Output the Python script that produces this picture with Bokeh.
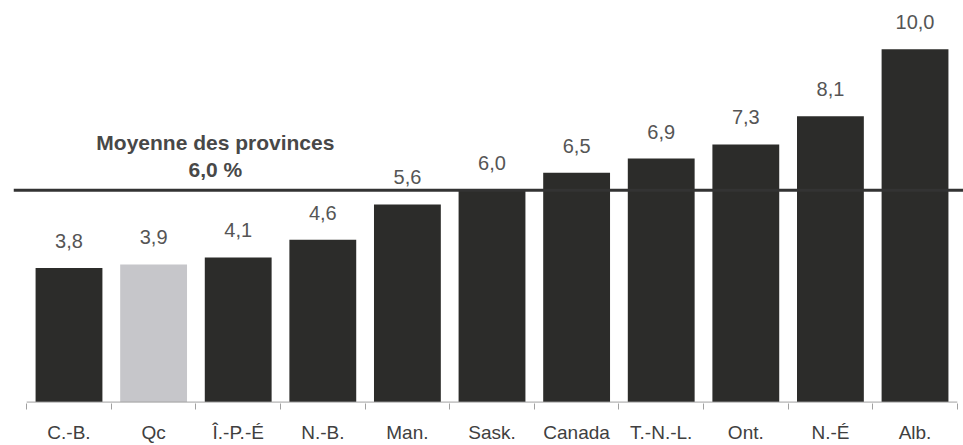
from bokeh.plotting import figure
from bokeh.models import ColumnDataSource, Range1d, FixedTicker, Span, Label
from bokeh.core.properties import value
from bokeh.embed import file_html
from bokeh.resources import INLINE

categories = ["C.-B.", "Qc", "Î.-P.-É", "N.-B.", "Man.", "Sask.", "Canada", "T.-N.-L.", "Ont.", "N.-É", "Alb."]
values = [3.8, 3.9, 4.1, 4.6, 5.6, 6.0, 6.5, 6.9, 7.3, 8.1, 10.0]
value_labels = ["3,8", "3,9", "4,1", "4,6", "5,6", "6,0", "6,5", "6,9", "7,3", "8,1", "10,0"]
highlight = "Qc"
average = 6.0
average_title = "Moyenne des provinces"
average_label = "6,0 %"

DARK = "#2c2c2a"
LIGHT = "#c6c6ca"
FONT = "Liberation Sans"

n = len(categories)
xs = list(range(n))
colors = [LIGHT if c == highlight else DARK for c in categories]
src = ColumnDataSource(dict(x=xs, top=values, color=colors, lab=value_labels))

p = figure(width=963, height=445, output_backend="svg", toolbar_location=None,
           x_range=Range1d(-0.656, 10.573), y_range=Range1d(-0.04, 11.38),
           min_border_left=13, min_border_right=0, min_border_top=0, min_border_bottom=42)
p.outline_line_color = None
p.xgrid.visible = False
p.ygrid.visible = False
p.yaxis.visible = False
p.background_fill_color = "white"
p.border_fill_color = "white"

p.vbar(x="x", top="top", bottom=0, width=0.79, fill_color="color", line_color=None, source=src)

p.text(x="x", y="top", text="lab", source=src, text_align="center", text_baseline="alphabetic",
       y_offset=-27, text_font=value(FONT), text_font_size="20px", text_color="#555555")

# baseline of the category axis
p.segment(x0=[-0.5], x1=[n - 0.5], y0=[0], y1=[0], line_color="#a0a0a0", line_width=1)

ax = p.xaxis[0]
ax.ticker = FixedTicker(ticks=xs, minor_ticks=[i - 0.5 for i in range(n + 1)])
ax.major_label_overrides = {i: c for i, c in enumerate(categories)}
ax.axis_line_color = None
ax.major_tick_line_color = None
ax.major_tick_out = 0
ax.major_tick_in = 0
ax.minor_tick_line_color = "#a0a0a0"
ax.minor_tick_out = 6
ax.minor_tick_in = 0
ax.major_label_standoff = 12
ax.major_label_text_font = FONT
ax.major_label_text_font_size = "19px"
ax.major_label_text_color = "#404040"

p.add_layout(Span(location=average, dimension="width", line_color="#333333", line_width=3))

p.add_layout(Label(x=1.73, y=7.35, text=average_title, text_align="center", text_baseline="alphabetic",
                   text_font=FONT, text_font_size="21px", text_font_style="bold", text_color="#484848"))
p.add_layout(Label(x=1.73, y=6.59, text=average_label, text_align="center", text_baseline="alphabetic",
                   text_font=FONT, text_font_size="21px", text_font_style="bold", text_color="#484848"))

open("out.html", "w").write(file_html(p, INLINE))
